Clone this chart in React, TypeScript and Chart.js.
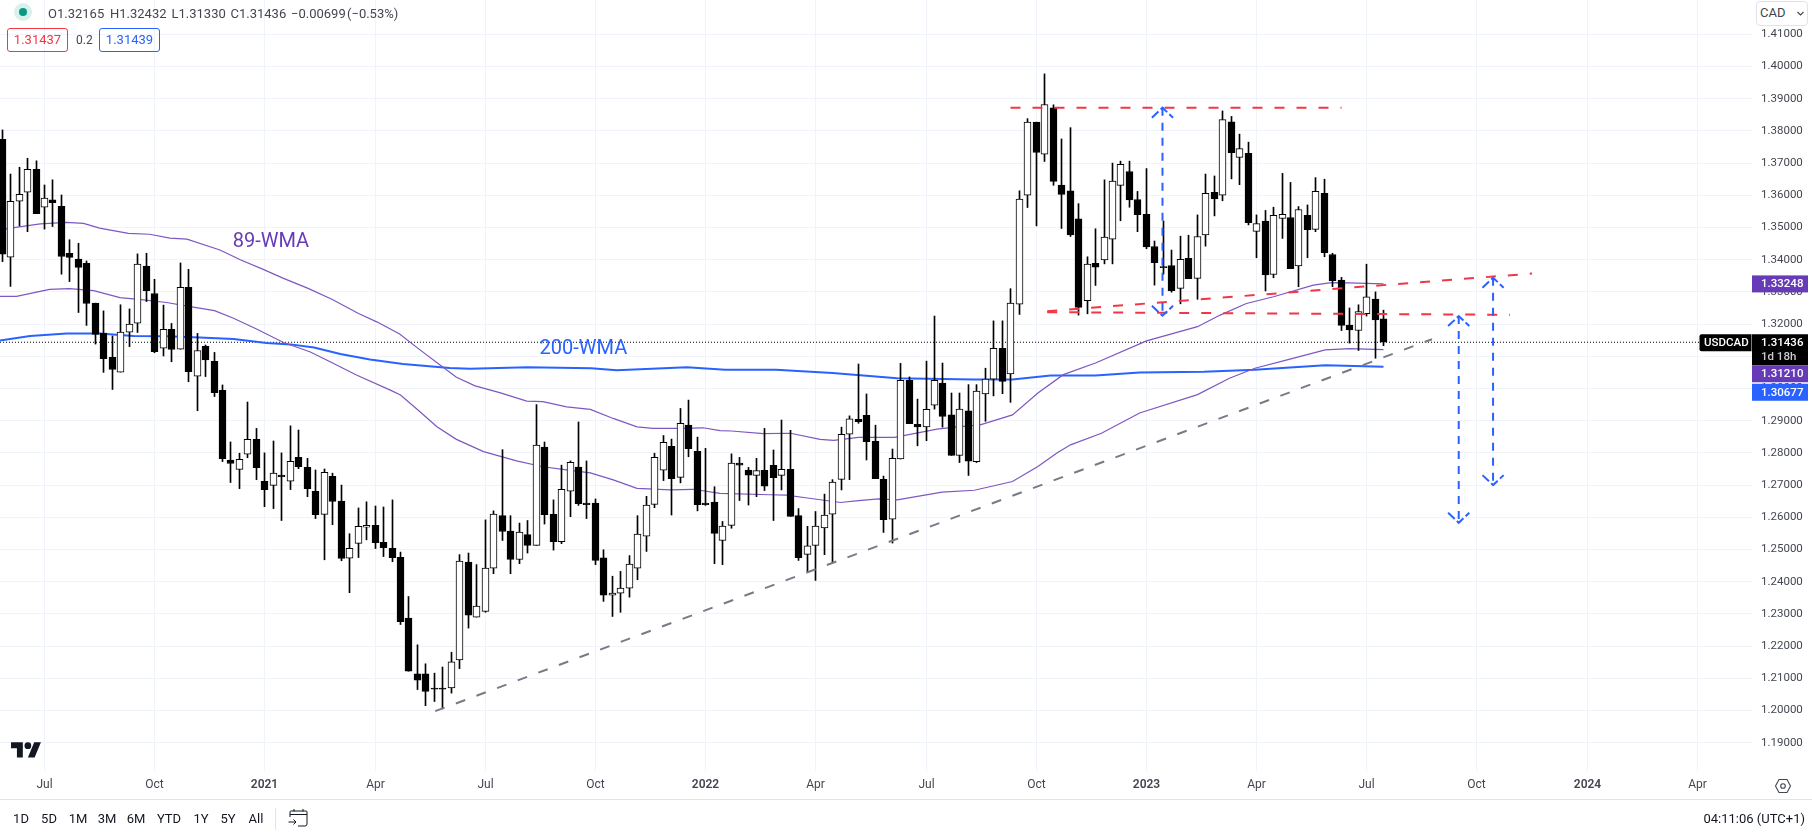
import React, { useEffect, useLayoutEffect, useRef } from "react";
import { Chart, registerables } from "chart.js";

Chart.register(...registerables);

const FONT = "Roboto, 'Noto Sans', sans-serif";

// weekly USDCAD candles, index 0 = first visible week
const opens = [
  1.3774,1.3408,1.3582,1.3610,1.3681,1.3563,1.3586,1.3566,1.3420,1.3402,
  1.3389,1.3265,1.3172,1.3097,1.3051,1.3175,1.3203,1.3380,1.3295,1.3125,
  1.3184,1.3122,1.3314,1.3038,1.3131,1.3084,1.2994,1.2778,1.2749,1.2796,
  1.2842,1.2712,1.2699,1.2731,1.2712,1.2786,1.2755,1.2681,1.2609,1.2727,
  1.2650,1.2473,1.2519,1.2569,1.2575,1.2522,1.2504,1.2476,1.2287,1.2114,
  1.2114,1.2070,1.2070,1.2070,1.2157,1.2461,1.2290,1.2308,1.2442,1.2605,
  1.2557,1.2469,1.2546,1.2513,1.2818,1.2609,1.2524,1.2681,1.2756,1.2644,
  1.2644,1.2474,1.2358,1.2364,1.2380,1.2442,1.2541,1.2640,1.2746,1.2820,
  1.2724,1.2886,1.2805,1.2644,1.2647,1.2528,1.2575,1.2768,1.2747,1.2730,
  1.2746,1.2761,1.2730,1.2749,1.2605,1.2485,1.2513,1.2567,1.2610,1.2718,
  1.2858,1.2904,1.2917,1.2836,1.2718,1.2594,1.2781,1.3025,1.2889,1.2881,
  1.2948,1.3017,1.2918,1.2792,1.2931,1.2773,1.2983,1.3029,1.3125,1.3045,
  1.3262,1.3600,1.3827,1.3728,1.3872,1.3632,1.3614,1.3527,1.3273,1.3389,
  1.3399,1.3464,1.3631,1.3674,1.3587,1.3541,1.3441,1.3379,1.3382,1.3311,
  1.3404,1.3342,1.3477,1.3609,1.3600,1.3828,1.3718,1.3730,1.3488,1.3520,
  1.3354,1.3528,1.3531,1.3381,1.3538,1.3494,1.3606,1.3416,1.3337,1.3197,
  1.3180,1.3232,1.3278,1.32165,
];
const highs = [
  1.3803,1.3666,1.3687,1.3715,1.3707,1.3632,1.3648,1.3601,1.3462,1.3451,
  1.3396,1.3265,1.3241,1.3163,1.3260,1.3247,1.3418,1.3420,1.3339,1.3259,
  1.3202,1.3390,1.3370,1.3171,1.3135,1.3112,1.3011,1.2834,1.2799,1.2958,
  1.2876,1.2800,1.2837,1.2800,1.2884,1.2871,1.2783,1.2747,1.2750,1.2737,
  1.2700,1.2549,1.2629,1.2648,1.2635,1.2632,1.2654,1.2492,1.2354,1.2204,
  1.2145,1.2116,1.2135,1.2181,1.2484,1.2489,1.2453,1.2592,1.2620,1.2810,
  1.2605,1.2582,1.2590,1.2950,1.2834,1.2654,1.2762,1.2775,1.2896,1.2775,
  1.2657,1.2499,1.2417,1.2432,1.2481,1.2605,1.2665,1.2799,1.2854,1.2843,
  1.2938,1.2964,1.2849,1.2814,1.2695,1.2587,1.2797,1.2786,1.2755,1.2783,
  1.2876,1.2809,1.2902,1.2870,1.2627,1.2572,1.2618,1.2672,1.2717,1.2880,
  1.2915,1.3076,1.2983,1.2886,1.2728,1.2812,1.3078,1.3036,1.2967,1.3085,
  1.3225,1.3079,1.2986,1.2986,1.3012,1.3012,1.3063,1.3210,1.3210,1.3310,
  1.3614,1.3838,1.3827,1.3977,1.3881,1.3775,1.3810,1.3574,1.3409,1.3496,
  1.3648,1.3700,1.3706,1.3706,1.3612,1.3683,1.3458,1.3520,1.3430,1.3473,
  1.3476,1.3539,1.3666,1.3660,1.3862,1.3845,1.3790,1.3765,1.3539,1.3553,
  1.3563,1.3668,1.3640,1.3565,1.3570,1.3655,1.3650,1.3420,1.3345,1.3250,
  1.3260,1.3386,1.3300,1.32432,
];
const lows = [
  1.3394,1.3317,1.3505,1.3487,1.3543,1.3495,1.3503,1.3355,1.3332,1.3236,
  1.3196,1.3138,1.3050,1.2997,1.3051,1.3130,1.3174,1.3270,1.3111,1.3101,
  1.3083,1.3122,1.3021,1.2931,1.3037,1.2975,1.2773,1.2708,1.2689,1.2785,
  1.2717,1.2633,1.2627,1.2590,1.2686,1.2751,1.2664,1.2596,1.2468,1.2577,
  1.2465,1.2366,1.2475,1.2530,1.2503,1.2478,1.2462,1.2267,1.2122,1.2065,
  1.2015,1.2028,1.2005,1.2054,1.2130,1.2256,1.2290,1.2305,1.2425,1.2528,
  1.2425,1.2456,1.2489,1.2513,1.2579,1.2498,1.2518,1.2602,1.2637,1.2596,
  1.2453,1.2339,1.2292,1.2305,1.2352,1.2406,1.2494,1.2630,1.2714,1.2607,
  1.2707,1.2788,1.2620,1.2637,1.2456,1.2453,1.2566,1.2652,1.2638,1.2664,
  1.2683,1.2590,1.2685,1.2603,1.2466,1.2430,1.2404,1.2484,1.2458,1.2685,
  1.2717,1.2892,1.2778,1.2720,1.2553,1.2520,1.2781,1.2891,1.2822,1.2838,
  1.2936,1.2880,1.2792,1.2770,1.2730,1.2770,1.2898,1.2977,1.2984,1.2957,
  1.3230,1.3562,1.3505,1.3705,1.3631,1.3497,1.3472,1.3228,1.3232,1.3320,
  1.3387,1.3387,1.3521,1.3563,1.3487,1.3434,1.3321,1.3355,1.3299,1.3263,
  1.3341,1.3277,1.3442,1.3536,1.3583,1.3651,1.3633,1.3508,1.3406,1.3303,
  1.3344,1.3466,1.3372,1.3316,1.3406,1.3487,1.3409,1.3316,1.3180,1.3141,
  1.3118,1.3225,1.3094,1.3133,
];
const closes = [
  1.3417,1.3581,1.3603,1.3681,1.3543,1.3591,1.3577,1.3410,1.3407,1.3376,
  1.3264,1.3168,1.3093,1.3059,1.3175,1.3200,1.3386,1.3304,1.3114,1.3184,
  1.3121,1.3314,1.3052,1.3118,1.3089,1.2987,1.2782,1.2767,1.2780,1.2842,
  1.2754,1.2686,1.2737,1.2726,1.2774,1.2757,1.2689,1.2608,1.2740,1.2649,
  1.2472,1.2504,1.2572,1.2575,1.2521,1.2506,1.2475,1.2276,1.2122,1.2094,
  1.2059,1.2066,1.2066,1.2151,1.2464,1.2296,1.2324,1.2442,1.2610,1.2556,
  1.2469,1.2554,1.2513,1.2824,1.2608,1.2524,1.2687,1.2771,1.2642,1.2639,
  1.2466,1.2358,1.2365,1.2380,1.2455,1.2548,1.2638,1.2786,1.2833,1.2720,
  1.2892,1.2813,1.2639,1.2639,1.2550,1.2573,1.2768,1.2762,1.2731,1.2745,
  1.2697,1.2723,1.2749,1.2603,1.2475,1.2511,1.2573,1.2607,1.2709,1.2858,
  1.2906,1.2897,1.2835,1.2720,1.2593,1.2783,1.3025,1.2891,1.2881,1.2935,
  1.3025,1.2913,1.2792,1.2936,1.2774,1.2992,1.3029,1.3125,1.3022,1.3265,
  1.3588,1.3827,1.3733,1.3882,1.3643,1.3603,1.3477,1.3252,1.3386,1.3377,
  1.3470,1.3644,1.3696,1.3586,1.3540,1.3440,1.3391,1.3375,1.3304,1.3401,
  1.3341,1.3472,1.3606,1.3589,1.3835,1.3732,1.3745,1.3515,1.3512,1.3353,
  1.3538,1.3541,1.3372,1.3556,1.3493,1.3612,1.3422,1.3335,1.3196,1.3182,
  1.3239,1.3285,1.3213,1.31436,
];

// 89-WMA (upper at the left edge, ends at 1.33248)
const upperWeeks = [-0.3,4.5,7.6,9.6,11.5,14.9,17.4,19.8,21.8,25.7,28.1,30.8,33.2,36.1,38.9,42,44.2,46.9,49.3,51.9,53.6,55.8,58.7,61.9,63.8,66.6,69.4,72.1,74.9,76.8,80,82.7,84.7,86,89.8,93,96.5,98.1,101,105.3,110.3,112.4,115.4,119.2,122.2,125.2,129,135,141,143.7,146.8,150,154.7,156.6,157.8,163];
const upperValues = [1.3493,1.3511,1.3516,1.3513,1.3498,1.3482,1.3479,1.3467,1.3464,1.3430,1.3400,1.3370,1.3342,1.3311,1.3277,1.3233,1.3207,1.3169,1.3120,1.3068,1.3035,1.3008,1.2987,1.2961,1.2959,1.2943,1.2935,1.2907,1.2881,1.2876,1.2876,1.2878,1.2869,1.2868,1.2860,1.2861,1.2842,1.2839,1.2848,1.2848,1.2874,1.2880,1.2887,1.2918,1.2986,1.3043,1.3079,1.3148,1.3192,1.3228,1.3264,1.3285,1.3321,1.3328,1.3329,1.33248];

// second purple average (ends at 1.31210)
const lowerWeeks = [-0.3,1.7,5.6,8,10.8,13.9,16.7,19.4,22.2,25,27.3,30,33.2,36.3,38.7,41.8,45.8,47,49.3,51.3,53.6,56.8,60.7,63.8,66.6,69.4,72.1,74.9,78.8,81.5,84.7,90.6,92.5,95,98.9,101,103.4,105.6,110.9,114.7,119.2,122.2,124.4,126,129.7,134.2,141,144.8,147.8,151.6,156.1,159,163];
const lowerValues = [1.3286,1.3286,1.3308,1.3310,1.3304,1.3282,1.3275,1.3267,1.3254,1.3242,1.3218,1.3185,1.3143,1.3114,1.3083,1.3042,1.2995,1.2980,1.2928,1.2881,1.2842,1.2804,1.2775,1.2757,1.2747,1.2738,1.2716,1.2690,1.2685,1.2687,1.2674,1.2670,1.2669,1.2660,1.2646,1.2652,1.2657,1.2654,1.2678,1.2684,1.2711,1.2758,1.2799,1.2825,1.2861,1.2924,1.2981,1.3032,1.3063,1.3089,1.3120,1.3124,1.3121];

// 200-WMA
const slowWeeks = [-0.3,3.3,7.6,11.5,15.5,19.4,23.3,27.3,31.2,34,36.8,39.9,43.4,47.3,52.8,55.2,62,69.5,72.5,80.8,85.3,91.3,98,105.6,114.7,119.2,123.7,129,134.2,141.8,147.8,156.1,163];
const slowValues = [1.3149,1.3163,1.3171,1.3171,1.3163,1.3162,1.3158,1.3154,1.3141,1.3137,1.3127,1.3107,1.3090,1.3076,1.3064,1.3061,1.3066,1.3063,1.3057,1.3066,1.3058,1.3058,1.3048,1.3032,1.3028,1.3028,1.3040,1.3040,1.3050,1.3052,1.3058,1.3072,1.30677];

// hand-drawn trend lines: [week, price, week, price]
const redResistance = [119, 1.3872, 158, 1.3872];
const redSupport = [123.3, 1.3237, 177.9, 1.3229];
const redRising = [123.3, 1.3240, 180.5, 1.3357];
const grayTrend = [51.1, 1.1998, 168.7, 1.3153];

// measured-move arrows
const arrowWeeks = [136.9, 171.85, 175.9];
const arrowTops = [1.3872, 1.3225, 1.3344];
const arrowBottoms = [1.3226, 1.2583, 1.27];

const lastPrice = 1.31436;
const yTicks = [1.19,1.2,1.21,1.22,1.23,1.24,1.25,1.26,1.27,1.28,1.29,1.3,1.31,1.32,1.33,1.34,1.35,1.36,1.37,1.38,1.39,1.4,1.41];
const xTickWeeks = [5,18,31,44,57,70,83,96,109,122,135,148,161,174,187,200];
const xTickLabels = ["Jul","Oct","2021","Apr","Jul","Oct","2022","Apr","Jul","Oct","2023","Apr","Jul","Oct","2024","Apr"];
const rangeButtons = ["1D","5D","1M","3M","6M","YTD","1Y","5Y","All"];
const rangeCentres = [21,49,78,107,136,169,201,228,256];

const RED = "#f23645", BLUE = "#2962ff", GRAY = "#787b86", PURPLE = "#7e57c2", PURPLE_DARK = "#673ab7";
const TEXT = "#434651";

const zip = (xs: number[], ys: number[]) => xs.map((x, i) => ({ x, y: ys[i] }));

function lineSet(data: any[], color: string, width: number, dash: number[] = [], order = 3) {
  return { type: "line", data, borderColor: color, borderWidth: width, borderDash: dash, pointRadius: 0, tension: 0, order, fill: false };
}
const segment = (s: number[], color: string, dash: number[]) =>
  lineSet([{ x: s[0], y: s[1] }, { x: s[2], y: s[3] }], color, 2, dash, 1);

function arrowSets(week: number, top: number, bottom: number) {
  const dash = [8, 7];
  const dx = 1.25, dy = 0.0031;
  return [
    lineSet([{ x: week, y: top }, { x: week, y: bottom }], BLUE, 2, dash, 1),
    lineSet([{ x: week - dx, y: top - dy }, { x: week, y: top }, { x: week + dx, y: top - dy }], BLUE, 2, [9, 3], 1),
    lineSet([{ x: week - dx, y: bottom + dy }, { x: week, y: bottom }, { x: week + dx, y: bottom + dy }], BLUE, 2, [9, 3], 1),
  ];
}

const noPad = (s: any) => {
  s.paddingTop = s.paddingBottom = s.paddingLeft = s.paddingRight = 0;
  s._margins = { left: 0, right: 0, top: 0, bottom: 0 };
};

const overlayPlugin = {
  id: "overlay",
  afterDatasetsDraw(chart: any) {
    const { ctx, scales: { x, y } } = chart;
    ctx.save();
    ctx.textBaseline = "middle";
    ctx.textAlign = "left";
    ctx.font = `20px ${FONT}`;
    ctx.fillStyle = PURPLE_DARK;
    ctx.fillText("89-WMA", x.getPixelForValue(27.2), y.getPixelForValue(1.3456));
    ctx.fillStyle = BLUE;
    ctx.fillText("200-WMA", x.getPixelForValue(63.4), y.getPixelForValue(1.3124));
    ctx.restore();
  },
  afterDraw(chart: any) {
    const { ctx, scales: { y } } = chart;
    const left = 1752, w = 56, h = 17;
    const badgeFont = `500 11.5px ${FONT}`;
    const badge = (cy: number, fill: string, text: string) => {
      ctx.fillStyle = fill;
      ctx.fillRect(left, cy - h / 2, w, h);
      ctx.fillStyle = "#ffffff";
      ctx.font = badgeFont;
      ctx.textAlign = "left";
      ctx.textBaseline = "middle";
      ctx.fillText(text, left + 9, cy + 0.5);
    };
    ctx.save();
    badge(y.getPixelForValue(1.33248), PURPLE_DARK, "1.33248");
    const top = y.getPixelForValue(lastPrice) - 8;
    ctx.fillStyle = "#000000";
    ctx.fillRect(left, top, w, 31);
    ctx.fillStyle = "#ffffff";
    ctx.font = badgeFont;
    ctx.textBaseline = "middle";
    ctx.fillText("1.31436", left + 9, top + 8.5);
    ctx.fillStyle = "#c9cbd1";
    ctx.fillText("1d 18h", left + 9, top + 22.5);
    badge(top + 39.5, PURPLE_DARK, "1.31210");
    badge(top + 58, BLUE, "1.30677");
    ctx.fillStyle = "#000000";
    ctx.beginPath();
    ctx.roundRect(1699.5, top, 52, 17, [2, 0, 0, 2]);
    ctx.fill();
    ctx.fillStyle = "#ffffff";
    ctx.font = badgeFont;
    ctx.fillText("USDCAD", 1704, top + 9);
    ctx.restore();
  },
};

const Txt = ({ x, y, children, color = TEXT, size = 13, center = false, right = false, weight = 400 }: any) => (
  <div
    style={{
      position: "absolute", left: right ? undefined : x, right: right ? 1812 - x : undefined, top: y - 10, height: 20, lineHeight: "20px",
      fontSize: size, fontWeight: weight, color, fontFamily: FONT, whiteSpace: "nowrap",
      transform: center ? "translateX(-50%)" : undefined,
    }}
  >
    {children}
  </div>
);

const boxStyle = (left: number, width: number, color: string): React.CSSProperties => ({
  position: "absolute", left, top: 28, width, height: 24, boxSizing: "border-box", border: `1px solid ${color}`, borderRadius: 3,
  color, fontFamily: FONT, fontSize: 13, lineHeight: "22px", textAlign: "center",
});

export default function App() {
  const ref = useRef<HTMLCanvasElement | null>(null);

  useLayoutEffect(() => {
    document.body.style.margin = "0";
    document.body.style.background = "#ffffff";
  }, []);

  useEffect(() => {
    if (!ref.current) return;
    const weeks = opens.map((_, i) => i);
    const xMin = -0.25, xMax = 206.45;
    const datasets: any[] = [
      ...arrowWeeks.flatMap((w, i) => arrowSets(w, arrowTops[i], arrowBottoms[i])),
      segment(redResistance, RED, [10, 12]),
      segment(redSupport, RED, [10, 12]),
      segment(redRising, RED, [10, 12]),
      segment(grayTrend, GRAY, [10, 12]),
      {
        type: "bar", data: weeks.map((i) => ({ x: i, y: [opens[i], closes[i]] })), grouped: false, barPercentage: 1, categoryPercentage: 1,
        maxBarThickness: 7,
        backgroundColor: weeks.map((i) => (closes[i] >= opens[i] ? "#ffffff" : "#000000")),
        borderColor: "#000000", borderWidth: 1, borderSkipped: false, order: 2,
      },
      {
        type: "bar", data: weeks.map((i) => ({ x: i, y: [lows[i], highs[i]] })), grouped: false, barPercentage: 1, categoryPercentage: 1,
        maxBarThickness: 1, backgroundColor: "#000000", borderWidth: 0, order: 2.5,
      },
      lineSet(zip(upperWeeks, upperValues), PURPLE, 1.2),
      lineSet(zip(lowerWeeks, lowerValues), PURPLE, 1.2),
      lineSet(zip(slowWeeks, slowValues), BLUE, 2),
      lineSet([{ x: xMin, y: lastPrice }, { x: xMax, y: lastPrice }], "#000000", 1, [1, 2], 4),
    ];
    const chart = new Chart(ref.current, {
      type: "bar",
      data: { datasets },
      plugins: [overlayPlugin],
      options: {
        animation: false,
        responsive: false,
        devicePixelRatio: 1,
        layout: { padding: 0 },
        plugins: { legend: { display: false }, tooltip: { enabled: false } },
        events: [],
        scales: {
          x: {
            type: "linear", min: xMin, max: xMax, offset: false,
            afterFit: (s: any) => {
              s.height = 67;
              noPad(s);
              // candles and grid lines sit on whole device pixels, as in the reference
              if (!s.__snapped) {
                const raw = s.getPixelForValue;
                s.getPixelForValue = function (v: number, i?: number) {
                  const p = raw.call(s, v, i);
                  return Number.isInteger(v) ? Math.floor(p) + 0.5 : p;
                };
                s.__snapped = true;
              }
            },
            afterBuildTicks: (s: any) => { s.ticks = xTickWeeks.map((value) => ({ value })); },
            grid: { color: "#f0f3fa", drawTicks: false, lineWidth: 1, offset: false },
            border: { display: false },
            ticks: {
              autoSkip: false, maxRotation: 0, padding: 7, color: TEXT,
              font: (c: any) => {
                const lab = xTickLabels[xTickWeeks.indexOf(c.tick?.value)];
                return { family: FONT, size: 12, weight: lab && lab.length === 4 ? "600" : "400" };
              },
              callback: (v: any) => xTickLabels[xTickWeeks.indexOf(v)] ?? "",
            },
          },
          y: {
            type: "linear", position: "right", min: 1.18121, max: 1.42065,
            afterFit: (s: any) => { s.width = 60; noPad(s); },
            afterBuildTicks: (s: any) => { s.ticks = yTicks.map((value) => ({ value })); },
            grid: { color: "#f0f3fa", drawTicks: false, lineWidth: 1 },
            border: { display: false },
            ticks: {
              padding: 9, color: TEXT, autoSkip: false,
              font: { family: FONT, size: 11.5 },
              callback: (v: any) => Number(v).toFixed(5),
            },
          },
        },
      } as any,
    } as any);
    return () => chart.destroy();
  }, []);

  return (
    <div style={{ position: "relative", width: 1812, height: 838, overflow: "hidden", background: "#fff" }}>
      <canvas ref={ref} width={1812} height={838} style={{ position: "absolute", left: 0, top: 0, display: "block" }} />

      <div style={{ position: "absolute", left: 14, top: 3, width: 18, height: 18, borderRadius: 9, background: "#d9f0ec" }} />
      <div style={{ position: "absolute", left: 19, top: 8, width: 8, height: 8, borderRadius: 4, background: "#089981" }} />
      <Txt x={48} y={14}>O1.32165</Txt>
      <Txt x={110} y={14}>H1.32432</Txt>
      <Txt x={171.5} y={14}>L1.31330</Txt>
      <Txt x={230.5} y={14}>C1.31436</Txt>
      <Txt x={291} y={14}>−0.00699</Txt>
      <Txt x={347} y={14}>(−0.53%)</Txt>
      <div style={boxStyle(7, 61, RED)}>1.31437</div>
      <Txt x={76} y={40} size={12}>0.2</Txt>
      <div style={boxStyle(99, 61, BLUE)}>1.31439</div>

      <div style={{ position: "absolute", left: 1756, top: 1, width: 52, height: 25, boxSizing: "border-box", border: "1px solid #e0e3eb", borderRadius: 4, background: "#fff" }} />
      <Txt x={1760} y={13}>CAD</Txt>
      <svg style={{ position: "absolute", left: 1796, top: 10 }} width="9" height="7" viewBox="0 0 9 7">
        <path d="M1.5 2 L4.5 5 L7.5 2" fill="none" stroke="#434651" strokeWidth="1.1" />
      </svg>

      <svg style={{ position: "absolute", left: 11, top: 738.6 }} width="30.4" height="23.6" viewBox="0 0 36 28">
        <path d="M14 22H7V11H0V4h14v18zM28 22h-8l7.5-18h8L28 22z" fill="#131722" />
        <circle cx="20" cy="8" r="4" fill="#131722" />
      </svg>

      <svg style={{ position: "absolute", left: 1774, top: 777 }} width="18" height="18" viewBox="0 0 18 18">
        <path d="M5 2.5 H13 L16.5 9 L13 15.5 H5 L1.5 9 Z" fill="none" stroke="#434651" strokeWidth="1.1" />
        <circle cx="9" cy="9" r="2.3" fill="none" stroke="#434651" strokeWidth="1.1" />
      </svg>

      <div style={{ position: "absolute", left: 0, top: 799, width: 1812, height: 1, background: "#e0e3eb" }} />
      {rangeButtons.map((b, i) => (
        <Txt key={b} x={rangeCentres[i]} y={819} center color="#131722">{b}</Txt>
      ))}
      <div style={{ position: "absolute", left: 275, top: 808, width: 1, height: 22, background: "#e0e3eb" }} />
      <svg style={{ position: "absolute", left: 288, top: 808 }} width="21" height="20" viewBox="0 0 21 20" fill="none" stroke="#131722" strokeWidth="1">
        <path d="M2 9 V4 Q2 3 3 3 H18 Q19 3 19 4 V16 Q19 18 17 18 H10" />
        <path d="M2 6.5 H19 M6 1 V3.5 M15 1 V3.5" />
        <path d="M0.5 14 H8 M5.5 11.5 L8 14 L5.5 16.5" />
      </svg>
      <Txt x={1805} y={819} right color="#131722">04:11:06 (UTC+1)</Txt>
    </div>
  );
}
